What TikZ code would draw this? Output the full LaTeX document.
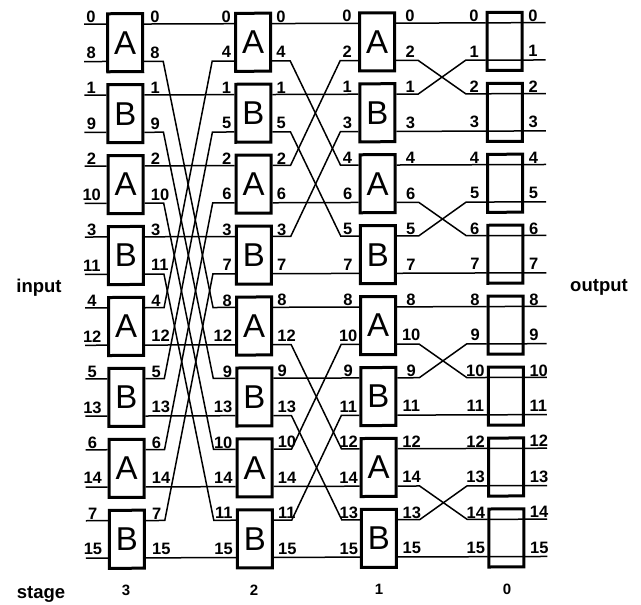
\documentclass[tikz,border=0pt]{standalone}
\usepackage{fontspec}
\setmainfont{Liberation Sans}
\usetikzlibrary{calc}
\tikzset{
  x=1pt,y=-1pt,
  boxnode/.style={draw=black,line width=3pt,fill=white,minimum width=35pt,minimum height=58pt,inner sep=0pt,transform shape,font=\fontsize{33}{33}\selectfont},
  wire/.style={line width=1.5pt,line join=miter},
  lbl/.style={inner sep=0pt,font=\fontsize{16.5}{16.5}\selectfont\bfseries},
  side/.style={inner sep=0pt,font=\fontsize{18.5}{18.5}\selectfont\bfseries},
  stagenum/.style={inner sep=0pt,font=\fontsize{15}{15}\selectfont\bfseries},
}
\begin{document}
\begin{tikzpicture}
\useasboundingbox (0,0) rectangle (641,605);
\begin{scope}[rotate=0.2]
\foreach \st/\cx/\vals/\lx/\la/\rx/\ra in {
  3/125/{0,8,1,9,2,10,3,11,4,12,5,13,6,14,7,15}/91/base/150/base west,
  2/253/{0,4,1,5,2,6,3,7,8,12,9,13,10,14,11,15}/231/base east/276/base west,
  1/377/{0,2,1,3,4,6,5,7,8,10,9,11,12,14,13,15}/347/base/410/base,
  0/504.5/{0,1,2,3,4,5,6,7,8,9,10,11,12,13,14,15}/474/base/528/base west}{
  \foreach \v [count=\rr from 0] in \vals {
    \pgfmathsetmacro{\yy}{25.4+35.47*\rr}
    \pgfmathtruncatemacro{\ii}{int(\rr/2)}
    \ifodd\rr
      \def\ff{0.807}
    \else
      \def\ff{0.195}
      \pgfmathsetmacro{\cy}{\yy+17.735}
      \pgfmathtruncatemacro{\isb}{mod(\ii,2)}
      \node[boxnode] (b-\st-\ii) at (\cx,\cy) {\ifnum\st=0 \else\ifnum\isb=0 A\else B\fi\fi};
    \fi
    \coordinate (in-\st-\v) at ($(b-\st-\ii.north west)!\ff!(b-\st-\ii.south west)$);
    \coordinate (out-\st-\v) at ($(b-\st-\ii.north east)!\ff!(b-\st-\ii.south east)$);
    \pgfmathsetmacro{\ty}{\yy-2.2}
    \node[lbl,anchor=\la] (ll-\st-\v) at (\lx,\ty) {\v};
    \node[lbl,anchor=\ra] (rl-\st-\v) at (\rx,\ty) {\v};
  }
}
\foreach \v in {0,...,15}{
  \draw[wire] (in-3-\v) -- ++(-22,0);
  \draw[wire] (out-3-\v) -- ($(out-3-\v)+(19,0)$) -- ($(in-2-\v)+(-22,0)$) -- (in-2-\v);
  \draw[wire] (out-2-\v) -- ($(out-2-\v)+(18,0)$) -- ($(in-1-\v)+(-18,0)$) -- (in-1-\v);
  \draw[wire] (out-1-\v) -- ($(out-1-\v)+(22,0)$) -- ($(in-0-\v)+(-20,0)$) -- (in-0-\v);
  \draw[wire] (in-0-\v) -- (out-0-\v) -- ++(22,0);
}
\end{scope}
\node[side] (inputlbl) at (39,288) {input};
\node[side] (outputlbl) at (599,287) {output};
\node[side] (stagelbl) at (41,594) {stage};
\node[stagenum] (s3) at (126,590) {3};
\node[stagenum] (s2) at (254,590) {2};
\node[stagenum] (s1) at (379,589) {1};
\node[stagenum] (s0) at (507,589) {0};
\end{tikzpicture}
\end{document}
